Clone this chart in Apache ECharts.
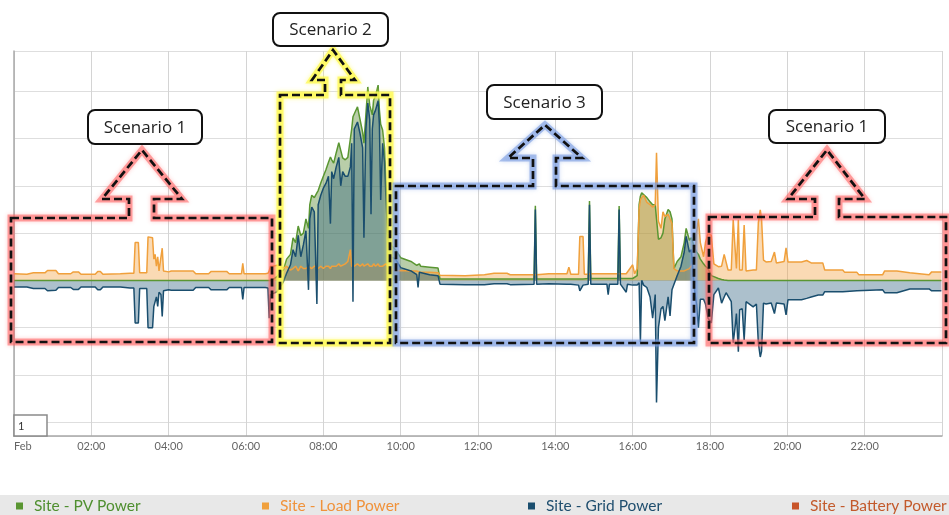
<!DOCTYPE html>
<html><head><meta charset="utf-8">
<script src="https://cdn.jsdelivr.net/npm/echarts@6/dist/echarts.min.js"></script>
<style>html,body{margin:0;padding:0;background:#fff}#c{width:949px;height:515px}</style>
</head><body><div id="c"></div>
<script>
// ---- data (time of day, kW) ----
const times = [
"00:00","00:20","00:30","00:48","00:52","01:05","01:09","01:28","01:32","01:40",
"01:44","02:06","02:10","02:14","02:18","02:45","03:00","03:06","03:08","03:13",
"03:15","03:26","03:28","03:35","03:37","03:39","03:41","03:43","03:45","03:48",
"03:50","03:52","04:00","04:04","04:38","04:42","05:02","05:06","05:30","05:34",
"05:53","05:55","05:57","06:30","06:34","06:36","06:38","06:42","06:48","06:54",
"06:58","07:03","07:09","07:13","07:17","07:21","07:25","07:29","07:33","07:37",
"07:39","07:42","07:46","07:50","07:52","07:56","08:00","08:04","08:08","08:11",
"08:13","08:16","08:20","08:24","08:27","08:30","08:34","08:38","08:42","08:44",
"08:46","08:48","08:53","08:57","09:01","09:03","09:06","09:09","09:12","09:14",
"09:16","09:18","09:21","09:25","09:27","09:29","09:32","09:35","09:37","09:40",
"09:45","09:52","10:00","10:16","10:25","10:27","10:29","10:31","10:45","10:58",
"11:01","11:40","12:10","12:25","12:45","12:50","13:27","13:29","13:31","13:50",
"14:18","14:21","14:24","14:36","14:38","14:43","14:45","14:51","14:53","14:55",
"15:20","15:22","15:24","15:37","15:39","15:41","15:50","15:52","16:00","16:03",
"16:07","16:10","16:12","16:14","16:17","16:22","16:27","16:31","16:35","16:37",
"16:40","16:44","16:47","16:50","16:55","16:58","17:01","17:04","17:09","17:15",
"17:20","17:23","17:28","17:31","17:36","17:39","17:42","17:45","17:50","17:53",
"17:57","18:02","18:06","18:13","18:18","18:22","18:25","18:28","18:33","18:36",
"18:39","18:41","18:44","18:46","18:50","18:53","18:56","18:59","19:07","19:12",
"19:15","19:18","19:20","19:23","19:27","19:35","19:40","19:43","19:55","19:58",
"20:01","20:22","20:30","20:37","20:48","20:55","20:58","21:26","21:29","21:48",
"21:51","22:28","22:31","22:50","22:53","23:10","23:13","23:40","23:44","23:59"
];
const pvPower = [
0,0,0,0,0,0,0,0,0,0,
0,0,0,0,0,0,0,0,0,0,
0,0,0,0,0,0,0,0,0,0,
0,0,0,0,0,0,0,0,0,0,
0,0,0,0,0,0,0,0.02,0.08,0.18,
0.22,0.45,0.55,0.90,0.80,1.15,0.95,1.00,1.30,1.10,
1.60,1.80,1.75,1.85,1.90,2.06,2.20,2.34,2.50,2.61,
2.55,2.48,2.70,2.91,2.75,2.59,2.55,2.60,3.00,3.20,
3.46,3.50,3.67,3.40,3.13,2.90,3.50,4.09,3.70,3.60,
3.50,3.81,3.90,4.13,3.60,3.30,3.18,2.80,2.12,1.20,
0.75,0.65,0.48,0.40,0.32,0.30,0.35,0.30,0.28,0.26,
0.03,0.03,0.03,0.03,0.03,0.03,0.03,1.58,0.03,0.03,
0.03,0.03,0.03,0.03,0.03,0.03,0.03,0.04,1.68,0.04,
0.04,0.04,0.04,0.04,1.57,0.04,0.04,0.04,0.04,0.04,
0.10,1.60,1.78,1.85,1.85,1.75,1.66,1.60,1.60,1.30,
0.87,0.90,1.00,1.30,1.50,1.45,1.30,0.25,0.40,0.50,
0.80,1.10,0.85,0.90,0.70,0.60,0.55,0.45,0.35,0.30,
0.25,0.10,0.08,0.04,0.02,0.01,0,0,0,0,
0,0,0,0,0,0,0,0,0,0,
0,0,0,0,0,0,0,0,0,0,
0,0,0,0,0,0,0,0,0,0,
0,0,0,0,0,0,0,0,0,0
];
const loadPower = [
0.14,0.13,0.16,0.16,0.21,0.21,0.14,0.14,0.18,0.18,
0.13,0.13,0.19,0.19,0.13,0.14,0.15,0.15,0.80,0.80,
0.16,0.16,0.92,0.90,0.45,0.55,0.30,0.50,0.20,0.20,
0.68,0.20,0.18,0.20,0.20,0.14,0.14,0.19,0.19,0.14,
0.14,0.36,0.14,0.14,0.15,0.20,0.30,0.30,0.32,0.30,
0.25,0.30,0.22,0.25,0.30,0.20,0.30,0.25,0.25,0.30,
0.30,0.25,0.30,0.30,0.25,0.30,0.25,0.30,0.30,0.25,
0.30,0.30,0.30,0.35,0.30,0.30,0.35,0.40,0.65,0.30,
0.30,0.30,0.35,0.30,0.35,0.30,0.30,0.35,0.30,0.30,
0.30,0.35,0.30,0.35,0.30,0.30,0.30,0.30,0.35,0.30,
0.25,0.20,0.21,0.20,0.20,0.20,0.18,0.17,0.17,0.16,
0.11,0.10,0.12,0.15,0.15,0.12,0.12,0.13,0.12,0.14,
0.14,0.28,0.13,0.13,0.93,0.93,0.13,0.13,0.14,0.14,
0.14,0.14,0.14,0.14,0.15,0.14,0.14,0.14,0.33,0.14,
0.25,1.50,1.70,1.75,1.80,1.65,1.60,1.55,1.60,2.70,
1.25,1.10,1.45,1.35,1.40,1.40,1.20,0.25,0.20,0.20,
0.20,0.20,0.25,0.25,0.40,1.00,1.30,0.80,0.50,0.80,
1.00,0.95,0.35,0.29,0.30,0.55,0.58,0.22,0.22,1.28,
1.28,0.25,1.28,0.22,0.22,1.17,0.20,0.18,0.22,0.22,
1.22,1.49,1.30,0.43,0.39,0.40,0.60,0.37,0.40,0.69,
0.39,0.39,0.42,0.37,0.37,0.37,0.22,0.22,0.17,0.17,
0.12,0.12,0.20,0.20,0.16,0.16,0.12,0.12,0.18,0.18
];
const gridPower = [
-0.14,-0.14,-0.17,-0.17,-0.22,-0.21,-0.15,-0.15,-0.19,-0.19,
-0.14,-0.14,-0.20,-0.20,-0.14,-0.14,-0.16,-0.16,-0.90,-0.90,
-0.17,-0.17,-1.00,-1.00,-0.55,-0.45,-0.35,-0.55,-0.25,-0.30,
-0.76,-0.22,-0.20,-0.21,-0.21,-0.15,-0.15,-0.20,-0.20,-0.15,
-0.15,-0.40,-0.15,-0.15,-0.16,-0.80,-0.30,-0.28,-0.24,-0.12,
-0.03,0.15,0.33,0.65,0.50,0.95,0.50,0.75,1.05,-0.20,
1.30,1.55,1.45,-0.50,1.60,1.80,1.95,2.05,2.20,1.20,
2.30,2.15,2.40,2.60,2.00,2.30,2.20,2.20,2.40,2.90,
-0.45,3.20,3.35,3.10,2.80,0.90,3.20,3.75,3.40,1.40,
3.20,3.50,3.60,3.80,3.30,1.70,2.90,2.50,1.80,0.90,
0.50,0.45,0.27,0.20,0.12,-0.15,0.17,0.13,0.12,0.10,
-0.08,-0.09,-0.09,-0.07,-0.07,-0.09,-0.08,1.50,-0.08,-0.07,
-0.08,-0.08,-0.08,-0.10,-0.22,-0.10,-0.10,-0.08,1.60,-0.08,
-0.08,-0.30,-0.08,-0.08,1.50,-0.08,-0.25,-0.08,-0.10,-0.08,
-0.10,-0.05,-1.30,0.00,-0.10,-0.15,-0.35,-0.80,-0.30,-2.58,
-1.00,-0.60,-0.55,-0.85,-0.35,-0.75,-0.20,-0.20,0.10,0.30,
0.60,0.93,0.60,0.65,-0.20,-0.50,-1.00,-0.40,-0.40,-0.50,
-0.80,-0.90,-0.30,-0.16,-0.48,-0.35,-0.26,-0.30,-0.45,-1.32,
-0.98,-0.70,-1.51,-0.62,-0.60,-1.26,-0.45,-0.41,-0.56,-0.50,
-1.32,-1.62,-1.50,-0.48,-0.50,-0.48,-0.70,-0.48,-0.50,-0.73,
-0.41,-0.41,-0.38,-0.35,-0.31,-0.31,-0.24,-0.24,-0.22,-0.22,
-0.20,-0.20,-0.26,-0.26,-0.22,-0.18,-0.18,-0.18,-0.22,-0.22
];
const batteryPower = [];
const seriesNames = ["Site - PV Power","Site - Load Power","Site - Grid Power","Site - Battery Power"];
const xTickLabels = ["Feb","02:00","04:00","06:00","08:00","10:00","12:00","14:00","16:00","18:00","20:00","22:00",""];
const scenarioLabels = ["Scenario 1","Scenario 2","Scenario 3","Scenario 1"];

// ---- build ----
const FONT = 'Lato';
const toH = s => { const [h,m] = s.split(':').map(Number); return h + m/60; };
const pair = arr => times.map((t,i)=>[toH(t), arr[i]]);

const colors = {
  pv:   {line:'#5a9632', area:'rgba(88,138,50,0.6)', text:'#4f8f2f'},
  load: {line:'#f0a03c', area:'rgba(242,160,60,0.55)', text:'#f0923a'},
  grid: {line:'#1a4e6e', area:'rgba(38,92,122,0.55)', text:'#1f4e6e'},
  bat:  {line:'#c8552a', area:'rgba(200,85,42,0.4)', text:'#c35a2c'}
};

function areaSeries(name, data, c){
  return {name, type:'line', data, showSymbol:false, symbol:'none',
    lineStyle:{color:c.line, width:1.5}, itemStyle:{color:c.line},
    areaStyle:{color:c.area, origin:0}, emphasis:{disabled:true}};
}

// annotation layout (pixels)
const annot = [
  {glow:'rgba(255,95,95,0.55)', box:[11,272,218,342], stem:[129,154], head:[102,182,199], tip:[142,150], tag:[88,110,114,34]},
  {glow:'rgba(255,250,80,0.75)', box:[280,390,95,343], stem:[325,341], head:[312,355,80], tip:[333,50], tag:[273,13,115,33]},
  {glow:'rgba(120,155,225,0.6)', box:[396,694,186,343], stem:[533,556], head:[508,582,158], tip:[545,125], tag:[487,85,115,34]},
  {glow:'rgba(255,95,95,0.55)', box:[709,946,217,343], stem:[815,839], head:[788,865,199], tip:[827,150], tag:[769,110,116,33]}
];
function outline(a){
  const [l,r,t,b]=a.box, [sl,sr]=a.stem, [hl,hr,hb]=a.head, [tx,ty]=a.tip;
  return [[l,t],[sl,t],[sl,hb],[hl,hb],[tx,ty],[hr,hb],[sr,hb],[sr,t],[r,t],[r,b],[l,b]];
}
const graphics = [
  {type:'rect', shape:{x:0,y:495,width:949,height:20}, style:{fill:'#e8e8e8'}, z:-1, silent:true},
  {type:'rect', shape:{x:14,y:415,width:33,height:21}, style:{fill:'#fff', stroke:'#8a8a8a', lineWidth:1.5}, z:50},
  {type:'text', style:{text:'1', x:18, y:426, fill:'#333', font:'11px '+FONT, verticalAlign:'middle'}, z:51}
];
annot.forEach((a,i)=>{
  const pts = outline(a);
  graphics.push({type:'polygon', shape:{points:pts}, style:{fill:'none', stroke:a.glow, lineWidth:7, lineJoin:'miter', shadowBlur:4, shadowColor:a.glow}, z:60, silent:true});
  graphics.push({type:'polygon', shape:{points:pts}, style:{fill:'none', stroke:'#111', lineWidth:2.7, lineDash:[8,4], lineJoin:'miter'}, z:61, silent:true});
  const [x,y,w,h]=a.tag;
  graphics.push({type:'rect', shape:{x,y,width:w,height:h,r:7}, style:{fill:'#fff', stroke:'#111', lineWidth:2}, z:62});
  graphics.push({type:'text', style:{text:scenarioLabels[i], x:x+w/2, y:y+h/2+1, align:'center', verticalAlign:'middle', fill:'#222', font:'17px "Open Sans"'}, z:63});
});

const legendPos = [16, 262, 528, 792];
const legendCols = [colors.pv, colors.load, colors.grid, colors.bat];
const legends = seriesNames.map((n,i)=>({
  data:[{name:n, textStyle:{color:legendCols[i].text}}],
  left:legendPos[i], top:498, padding:0, icon:'rect', itemWidth:7, itemHeight:7,
  textStyle:{fontSize:15.5, fontFamily:FONT, padding:[0,0,0,6]}, selectedMode:false
}));

const chart = echarts.init(document.getElementById('c'), null, {renderer:'canvas'});
chart.setOption({
  animation:false,
  grid:{left:14, right:7, top:51, bottom:79, containLabel:false},
  legend:legends,
  xAxis:{type:'value', min:0, max:24, interval:2,
    axisLine:{onZero:false, lineStyle:{color:'#a8a8a8', width:1.5}},
    axisTick:{show:false},
    axisLabel:{margin:5, color:'#666', fontSize:11, fontFamily:FONT, alignMinLabel:'left',
      formatter:v=>xTickLabels[Math.round(v/2)] || ''},
    splitLine:{show:true, lineStyle:{color:'#d4d4d4', width:1}}},
  yAxis:{type:'value', min:-3.29, max:4.85, splitNumber:8, minInterval:1, maxInterval:1,
    axisLine:{show:true, lineStyle:{color:'#aaa', width:1.5}},
    axisTick:{show:false}, axisLabel:{show:false},
    splitLine:{show:true, lineStyle:{color:'#dedede', width:1}}},
  series:[
    areaSeries(seriesNames[0], pair(pvPower), colors.pv),
    areaSeries(seriesNames[1], pair(loadPower), colors.load),
    areaSeries(seriesNames[2], pair(gridPower), colors.grid),
    areaSeries(seriesNames[3], batteryPower, colors.bat)
  ],
  graphic:graphics
});
</script>
</body></html>
